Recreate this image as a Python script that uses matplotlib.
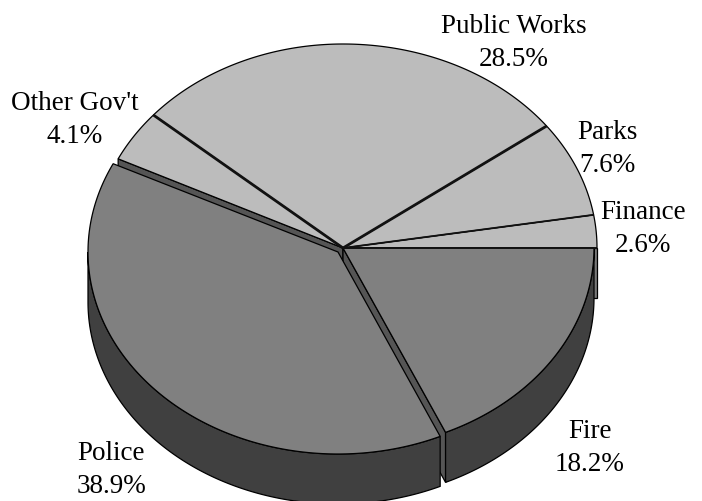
import numpy as np
import matplotlib
matplotlib.use("Agg")
import matplotlib.pyplot as plt
from matplotlib.patches import Polygon

names = ["Finance", "Parks", "Public Works", "Other Gov't", "Police", "Fire"]
shares = [2.6, 7.6, 28.5, 4.1, 38.9, 18.2]
label_x = [643, 607, 514, 75, 111, 590]
label_y = [229, 149, 43, 120, 470, 448]

LIGHT = "#bcbcbc"
MID = "#808080"
CUT = "#555555"
WALL = "#404040"
cx, cy = 343, 249
depth = 50
police_dx, police_dy = -5, 4

# slice boundaries in degrees, counter clockwise from east
edges = np.concatenate([[0], np.cumsum(shares) * 3.6])


def rim(a1, a2, dx=0, dy=0, right=254, ry=204):
    # left half of the pie is a bit narrower than the right half
    t = np.radians(np.linspace(a1, a2, 300))
    rx = np.where(np.cos(t) >= 0, right, 250)
    return np.column_stack([cx + dx + rx * np.cos(t), cy + dy - ry * np.sin(t)])


def top(ax, a1, a2, color, dx=0, dy=0, right=254, ry=204):
    pts = np.vstack([[[cx + dx, cy + dy]], rim(a1, a2, dx, dy, right, ry)])
    ax.add_patch(Polygon(pts, closed=True, fc=color, ec="black", lw=0.9, joinstyle="miter"))


def wall(ax, a1, a2, dx=0, dy=0, right=254, ry=204):
    upper = rim(a1, a2, dx, dy, right, ry)
    lower = upper[::-1] + [0, depth]
    ax.add_patch(Polygon(np.vstack([upper, lower]), closed=True, fc=WALL, ec="black", lw=0.9))


def cut(ax, a, color=CUT, right=254, ry=204):
    p = rim(a, a, 0, 0, right, ry)[0]
    pts = [[cx, cy], p, p + [0, depth], [cx, cy + depth]]
    ax.add_patch(Polygon(pts, closed=True, fc=color, ec="black", lw=0.9))


fig = plt.figure(figsize=(7.02, 5.02), dpi=100)
ax = fig.add_axes([0, 0, 1, 1])
ax.set_xlim(0, 702)
ax.set_ylim(502, 0)
ax.axis("off")

a_police = edges[4]
a_fire = edges[5]

# body first, then the pulled out police slice on top of it
cut(ax, a_police)
cut(ax, 0, "#777777")
cut(ax, a_fire, CUT, 251, 202)
wall(ax, a_fire, 360, 0, 0, 251, 202)
for i in range(4):
    top(ax, edges[i], edges[i + 1], LIGHT)
top(ax, a_fire, 360, MID, 0, 0, 251, 202)

wall(ax, 180, a_fire, police_dx, police_dy, 250, 202)
top(ax, a_police, a_fire, MID, police_dx, police_dy, 250, 202)

# heavier spokes around public works
for a, w in zip(edges[:4], [1.3, 1.3, 2.0, 2.0]):
    p = rim(a, a)[0]
    ax.plot([cx, p[0]], [cy, p[1]], color="#111111", lw=w, solid_capstyle="butt")

for name, share, x, y in zip(names, shares, label_x, label_y):
    ax.text(x, y, f"{name}\n{share}%", ha="center", va="center", fontsize=19.5,
            family="Liberation Serif", linespacing=1.42, color="black")

fig.savefig("out.png", dpi=100)
